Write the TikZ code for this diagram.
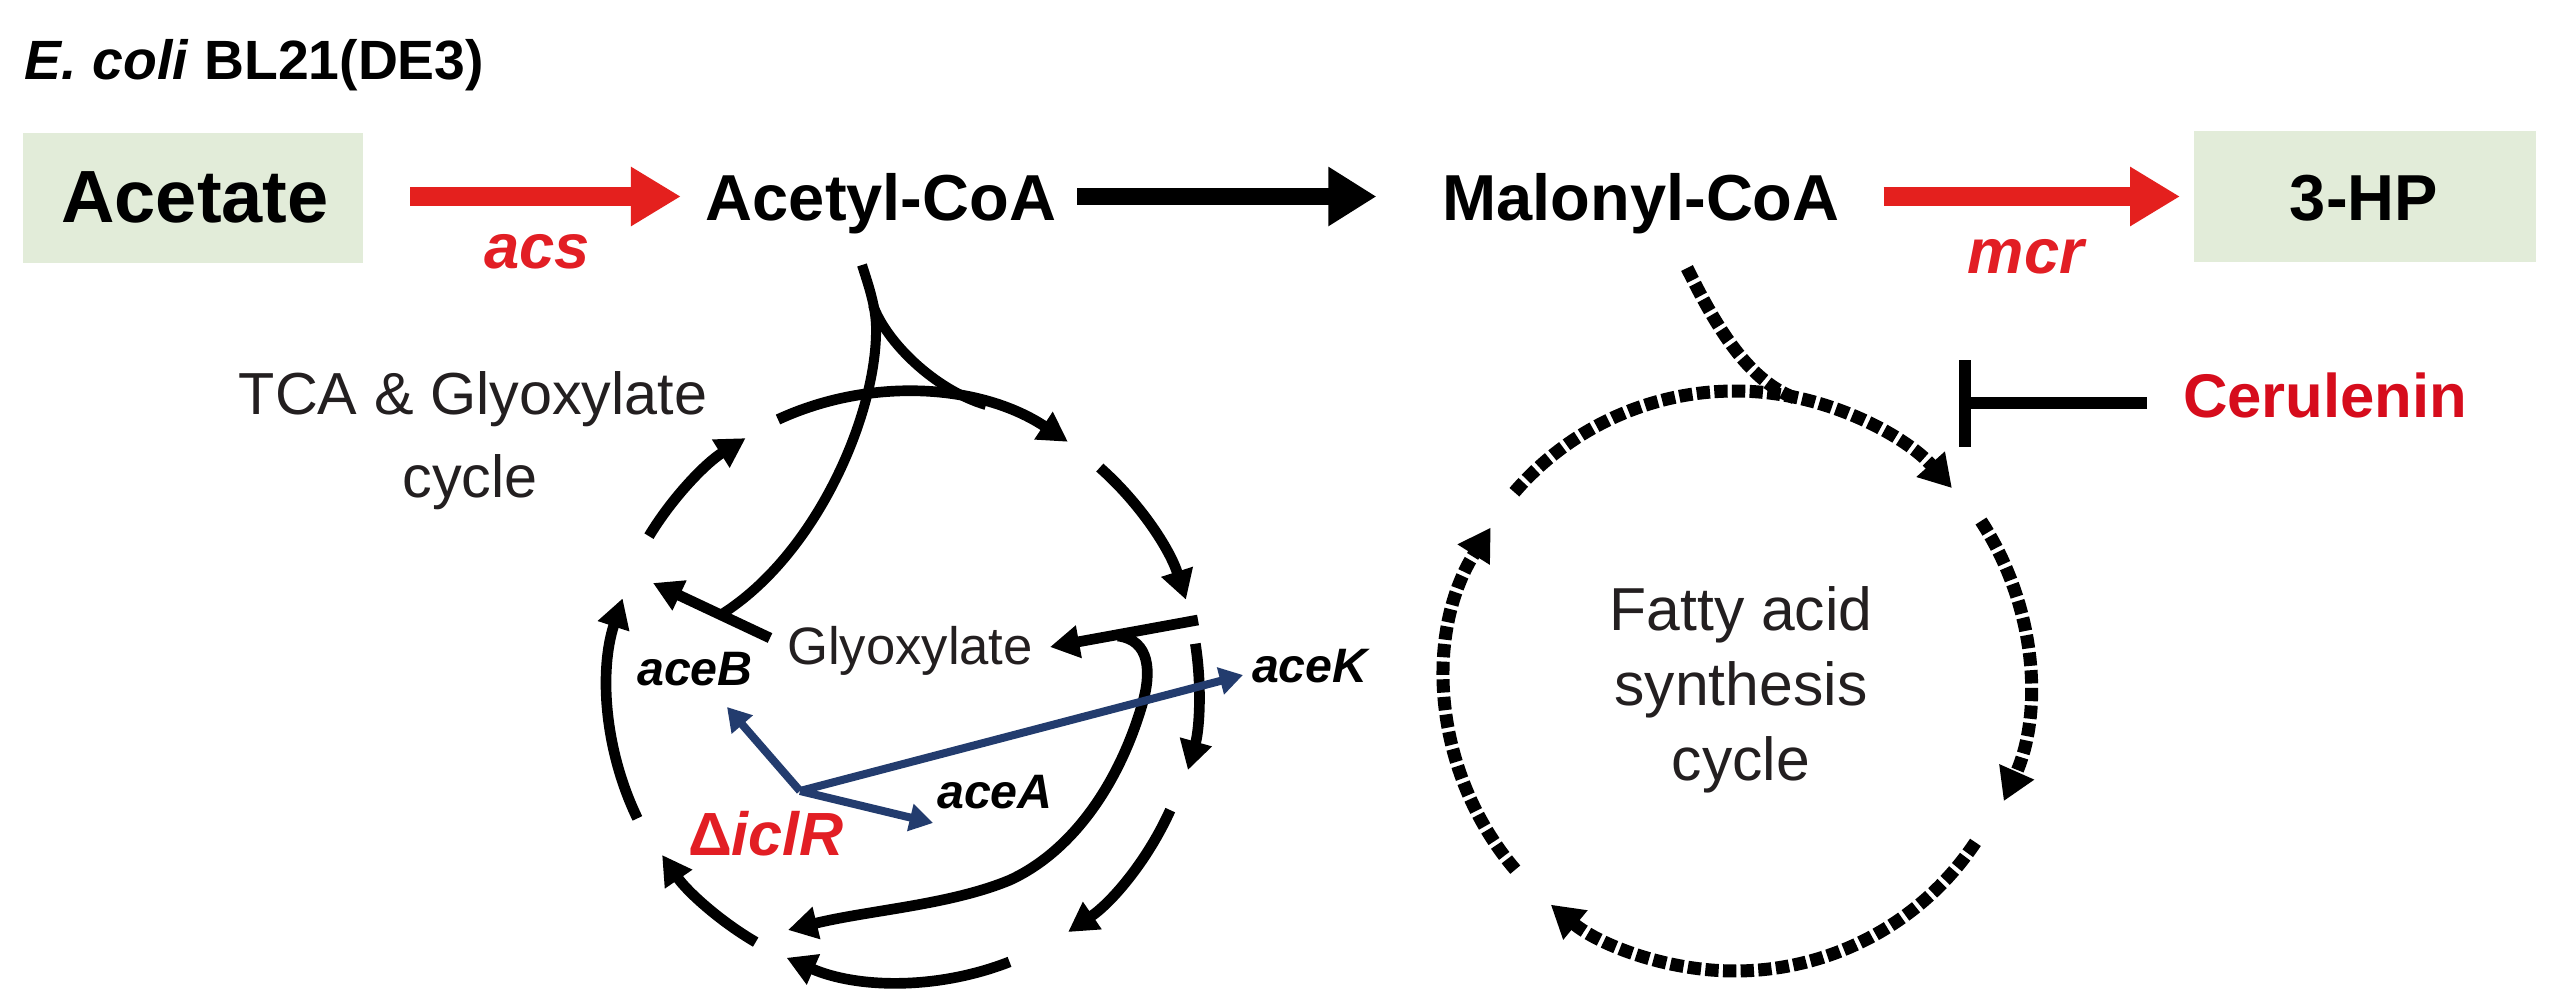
\documentclass[tikz,border=0pt]{standalone}
\usepackage{fontspec}
\setmainfont{Liberation Sans}
\usetikzlibrary{arrows.meta,calc}
\definecolor{boxgreen}{RGB}{226,236,217}
\definecolor{arrred}{RGB}{228,32,30}
\definecolor{txtred}{RGB}{226,30,36}
\definecolor{cerred}{RGB}{214,12,28}
\definecolor{navy}{RGB}{35,60,110}
\definecolor{dgray}{RGB}{35,31,32}
\begin{document}
\begin{tikzpicture}[x=0.3pt,y=-0.3pt,
  every node/.style={inner sep=0pt,outer sep=0pt},
  gbox/.style={fill=boxgreen,draw=none},
  bigbold/.style={font=\fontsize{19.5pt}{23pt}\selectfont\bfseries},
  enzlbl/.style={font=\fontsize{19pt}{23pt}\selectfont\bfseries\itshape,text=txtred},
  genelbl/.style={font=\fontsize{14.5pt}{17pt}\selectfont\bfseries\itshape},
  cyclbl/.style={font=\fontsize{17.8pt}{20pt}\selectfont,text=dgray},
  falbl/.style={font=\fontsize{18.2pt}{20pt}\selectfont,text=dgray},
  tcaline/.style={line width=3.2pt,-{Triangle[length=8.8pt,width=9.4pt]}},
  tcaplain/.style={line width=3pt},
  fadash/.style={line width=3.9pt,dash pattern=on 4pt off 1.3pt},
  faline/.style={fadash,-{Triangle[length=9.6pt,width=10.8pt]}},
  bluearr/.style={draw=navy,line width=2.4pt,-{Triangle[length=7pt,width=8pt]}},
  redarr/.style={draw=arrred,line width=5.7pt,-{Triangle[length=15pt,width=16.8pt]}},
  blkarr/.style={line width=5.2pt,-{Triangle[length=14.4pt,width=16.8pt]}},
  inhib/.style={line width=3.5pt}
]
\useasboundingbox[fill=white] (0,0) rectangle (2554,1002);

% title
\node[anchor=base west,font=\fontsize{16.6pt}{19pt}\selectfont\bfseries] (ecoli) at (25,79) {\textit{E. coli} BL21(DE3)};

% top row
\node[gbox,minimum width=102pt,minimum height=39pt] (acetate) at (193,198) {};
\node[anchor=base,font=\fontsize{22.2pt}{26pt}\selectfont\bfseries] (acetatetxt) at (195,222) {Acetate};
\node[anchor=base,bigbold] (acetyl) at (881,220) {Acetyl-CoA};
\node[anchor=base,bigbold] (malonyl) at (1641,220) {Malonyl-CoA};
\node[gbox,minimum width=102.6pt,minimum height=39.3pt] (hp) at (2365,196.5) {};
\node[anchor=base,bigbold] (hptxt) at (2364,220) {3-HP};
\node[anchor=base,enzlbl] (acs) at (537,268) {acs};
\node[anchor=base,enzlbl] (mcr) at (2026,273) {mcr};
\coordinate (row) at (0,196.5);

\draw[redarr,shorten <=14.1pt,shorten >=7.5pt] (acetate.east |- row) -- (acetyl.west |- row);
\draw[blkarr,shorten <=6.3pt,shorten >=19.8pt] (acetyl.east |- row) -- (malonyl.west |- row);
\draw[redarr,shorten <=13.2pt,shorten >=4.2pt] (malonyl.east |- row) -- (hp.west |- row);

% ---------- TCA & glyoxylate cycle ----------
\node[anchor=base,cyclbl] (tca1) at (473,414) {TCA \& Glyoxylate};
\node[anchor=base,cyclbl] (tca2) at (470,497) {cycle};
\coordinate (tca) at (903,690);
\draw[tcaline] ($(tca)+(-114.8:298)$) arc[start angle=-114.8,end angle=-56.4,radius=298];
\draw[tcaline] ($(tca)+(-48.5:297)$) arc[start angle=-48.5,end angle=-17.7,radius=297];
\draw[tcaline] ($(tca)+(-9:296)$) arc[start angle=-9,end angle=15.7,radius=296];
\draw[tcaline] ($(tca)+(24.2:293)$) arc[start angle=24.2,end angle=55.7,radius=293];
\draw[tcaline] ($(tca)+(68.6:292)$) arc[start angle=68.6,end angle=113.5,radius=292];
\draw[tcaline] ($(tca)+(120.3:292)$) arc[start angle=120.3,end angle=145.6,radius=292];
\draw[tcaline] ($(tca)+(-205.8:295)$) arc[start angle=-205.8,end angle=-161.9,radius=295];
\draw[tcaline] ($(tca)+(-148.8:297)$) arc[start angle=-148.8,end angle=-122,radius=297];

\node[anchor=base,font=\fontsize{15.8pt}{19pt}\selectfont,text=dgray] (glyox) at (910,664) {Glyoxylate};
\node[anchor=base,genelbl] (aceB) at (695,685) {aceB};
\node[anchor=base,genelbl] (aceA) at (995,808) {aceA};
\node[anchor=base west,genelbl] (aceK) at (1252,682) {aceK};
\node[anchor=base west,font=\fontsize{18.3pt}{22pt}\selectfont\bfseries,text=txtred] (iclr) at (688,855) {Δ\textit{iclR}};

% acetyl-CoA entry
\coordinate (stem) at (862,265);
\coordinate (split) at (873,305);
\coordinate (cit) at (986,405);
\coordinate (mal) at (722,614);
\draw[tcaplain] (stem) .. controls (870,290) and (877,310) .. (876,335)
   .. controls (874,420) and (815,555) .. (mal);
\draw[tcaplain] (split) .. controls (886,342) and (935,390) .. (cit);

% glyoxylate shunt
\coordinate (isoc) at (1198,620);
\coordinate (glytip) at (1050,647);
\coordinate (glyfrom) at (770,638);
\coordinate (maltip) at (653,583);
\coordinate (sucfrom) at (1118,636);
\coordinate (suctip) at (788,930);
\draw[tcaline] (isoc) -- (glytip);
\draw[tcaline] (glyfrom) -- (maltip);
\draw[tcaline] (sucfrom) .. controls (1150,640) and (1152,672) .. (1142,705)
   .. controls (1120,780) and (1075,850) .. (1010,880)
   .. controls (950,905) and (870,910) .. (suctip);

% iclR regulation
\coordinate (reg) at (800,791);
\coordinate (tipB) at (727,707);
\coordinate (tipA) at (933,823);
\coordinate (tipK) at (1243,675);
\draw[bluearr] (reg) -- (tipB);
\draw[bluearr] (reg) -- (tipA);
\draw[bluearr] (reg) -- (tipK);

% ---------- Fatty acid synthesis cycle ----------
\coordinate (fa) at (1735,682);
\draw[faline] ($(fa)+(-139.3:291)$) arc[start angle=-139.3,end angle=-41.8,radius=291];
\draw[faline] ($(fa)+(-33.2:294)$) arc[start angle=-33.2,end angle=23.9,radius=294];
\draw[faline] ($(fa)+(33.7:289)$) arc[start angle=33.7,end angle=129.6,radius=289];
\draw[faline] ($(fa)+(-220.5:289)$) arc[start angle=-220.5,end angle=-147.7,radius=289];
\coordinate (fastart) at (1687,268);
\coordinate (famerge) at (1795,398);
\draw[fadash] (fastart) .. controls (1712,318) and (1745,380) .. (famerge);

\node[anchor=base,falbl] (fa1) at (1741,630) {Fatty acid};
\node[anchor=base,falbl] (fa2) at (1741,705) {synthesis};
\node[anchor=base,falbl] (fa3) at (1741,780) {cycle};

% cerulenin
\node[anchor=base west,font=\fontsize{18.5pt}{22pt}\selectfont\bfseries,text=cerred] (ceru) at (2183,417) {Cerulenin};
\coordinate (inh) at (1965,403);
\draw[inhib,shorten <=10.8pt] (ceru.west |- inh) -- (inh);
\draw[inhib] ($(inh)+(0,-43)$) -- ($(inh)+(0,44)$);
\end{tikzpicture}
\end{document}
